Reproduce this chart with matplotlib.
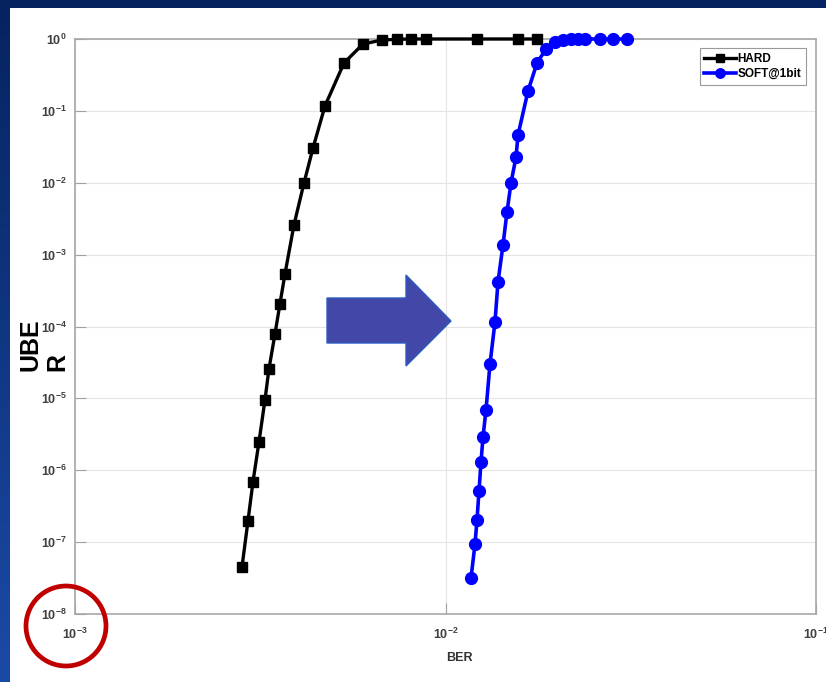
import matplotlib
matplotlib.use("Agg")
import matplotlib.pyplot as plt
import numpy as np
from matplotlib.patches import Polygon, Ellipse, Rectangle
from matplotlib.colors import LinearSegmentedColormap

plt.rcParams['font.family'] = ['Liberation Sans', 'DejaVu Sans']
plt.rcParams['mathtext.fontset'] = 'custom'
plt.rcParams['mathtext.rm'] = 'Liberation Sans:bold'
plt.rcParams['mathtext.it'] = 'Liberation Sans:bold'
plt.rcParams['mathtext.bf'] = 'Liberation Sans:bold'
plt.rcParams['mathtext.default'] = 'rm'

# ---- data ----
hard_ber = [2.823e-3, 2.930e-3, 3.022e-3, 3.137e-3, 3.256e-3, 3.338e-3, 3.465e-3,
            3.574e-3, 3.687e-3, 3.899e-3, 4.150e-3, 4.389e-3, 4.728e-3, 5.321e-3,
            5.989e-3, 6.740e-3, 7.398e-3, 8.070e-3, 8.859e-3, 1.2162e-2, 1.5696e-2,
            1.7660e-2]
hard_uber = [4.51e-8, 1.97e-7, 6.87e-7, 2.47e-6, 9.49e-6, 2.56e-5, 7.87e-5,
             2.06e-4, 5.37e-4, 2.58e-3, 9.93e-3, 3.04e-2, 0.117, 0.464,
             0.852, 0.968, 0.99, 1.0, 1.0, 1.0, 1.0, 1.0]

soft_ber = [1.1718e-2, 1.2013e-2, 1.2162e-2, 1.2315e-2, 1.2469e-2, 1.2625e-2,
            1.2862e-2, 1.3186e-2, 1.3602e-2, 1.3858e-2, 1.4295e-2, 1.4655e-2,
            1.5024e-2, 1.5498e-2, 1.5696e-2, 1.6699e-2, 1.7660e-2, 1.8673e-2,
            1.9743e-2, 2.0753e-2, 2.1812e-2, 2.2783e-2, 2.3797e-2, 2.6122e-2,
            2.8314e-2, 3.0903e-2]
soft_uber = [3.17e-8, 9.42e-8, 2.03e-7, 5.14e-7, 1.30e-6, 2.90e-6, 6.89e-6,
             3.01e-5, 1.16e-4, 4.16e-4, 1.36e-3, 3.92e-3, 9.93e-3, 2.28e-2,
             4.62e-2, 0.189, 0.464, 0.726, 0.908, 0.968, 1.0, 1.0, 1.0, 1.0,
             1.0, 1.0]

series_labels = ['HARD', 'SOFT@1bit']
x_ticks = [1e-3, 1e-2, 1e-1]
x_ticklabels = [r'$10^{-3}$', r'$10^{-2}$', r'$10^{-1}$']
y_ticks = [10.0 ** k for k in range(-8, 1)]
y_ticklabels = [r'$10^{%d}$' % k for k in range(-8, 1)]

W, H = 826, 682
fig = plt.figure(figsize=(W / 100, H / 100), dpi=100)

# slide background gradient
bg = fig.add_axes([0, 0, 1, 1], zorder=-10)
grad = np.linspace(0, 1, 256).reshape(-1, 1)
cmap = LinearSegmentedColormap.from_list('slide', ['#06235f', '#1b4aa6'])
bg.imshow(grad, aspect='auto', cmap=cmap, extent=[0, 1, 0, 1], origin='upper')
bg.set_xlim(0, 1); bg.set_ylim(0, 1)
bg.axis('off')
bg.add_patch(Rectangle((10 / W, 0), 1 - 10 / W, 1 - 8 / H, facecolor='white',
                       edgecolor='none', transform=bg.transAxes))

def fx(px):
    return px / W

def fy(py):
    return 1 - py / H

ax = fig.add_axes([fx(75), fy(614), (816 - 75) / W, (614 - 39) / H])
ax.set_facecolor('white')
ax.set_xscale('log')
ax.set_yscale('log')
ax.set_xlim(1e-3, 1e-1)
ax.set_ylim(1e-8, 1)

ax.plot(hard_ber, hard_uber, '-s', color='black', lw=2.4, ms=6.5,
        mfc='black', mec='black', clip_on=False, label=series_labels[0], zorder=3)
ax.plot(soft_ber, soft_uber, '-o', color='#0000ff', lw=2.6, ms=8.5,
        mfc='#0000ff', mec='#0000ff', clip_on=False, label=series_labels[1], zorder=4)

ax.set_xticks(x_ticks)
ax.set_xticklabels(x_ticklabels)
ax.set_yticks(y_ticks)
ax.set_yticklabels(y_ticklabels)
ax.minorticks_off()
ax.tick_params(axis='both', which='major', direction='in', length=8, width=0.8,
               color='#a0a0a0', labelsize=9, labelcolor='#404040', pad=6)
ax.tick_params(axis='x', pad=9)
ax.grid(True, which='major', color='#e4e4e4', lw=0.8)
ax.set_axisbelow(True)
for s in ax.spines.values():
    s.set_color('#a8a8a8')
    s.set_linewidth(1.2)

leg = ax.legend(loc='upper right', bbox_to_anchor=((806 - 75) / 741, 1 - 9 / 575),
                handlelength=2.7, handletextpad=0.1, borderpad=0.4,
                labelspacing=0.3, borderaxespad=0.0, fancybox=False,
                markerscale=0.8, framealpha=1, edgecolor='#9a9a9a',
                prop={'weight': 'bold', 'size': 8.5})
leg.get_frame().set_linewidth(0.8)

fig.text(fx(459), fy(658), 'BER', ha='center', va='center', fontsize=9,
         fontweight='bold', color='#333333')
fig.text(fx(44), fy(345), 'UBE\nR', ha='center', va='center', rotation=90,
         fontsize=18, fontweight='bold', color='black', multialignment='left',
         linespacing=1.15)

# block arrow
arrow_px = [(327, 298), (406, 298), (406, 275), (451, 321), (406, 366),
            (406, 343), (327, 343)]
arrow = Polygon([(fx(x), fy(y)) for x, y in arrow_px], closed=True,
                facecolor='#4347a8', edgecolor='#2a5cc0', lw=1.0,
                transform=fig.transFigure, zorder=20)
fig.patches.append(arrow)

# red highlight circle
circ = Ellipse((fx(66), fy(626)), 80 / W, 80 / H, facecolor='none',
               edgecolor='#c00000', lw=3.4, transform=fig.transFigure, zorder=20)
fig.patches.append(circ)

fig.savefig('out.png', dpi=100)
